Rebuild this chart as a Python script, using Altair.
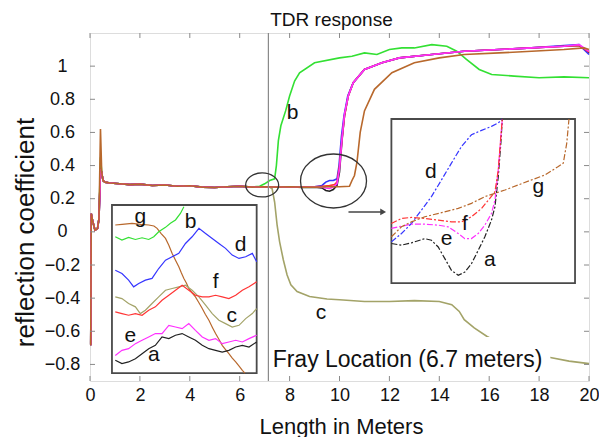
import altair as alt
import pandas as pd

FONT = "Liberation Sans"

# ---------------- main traces ----------------
BASE_X = [0.0, 0.03, 0.05, 0.1, 0.2, 0.3, 0.36, 0.42, 0.47, 0.52, 0.6, 0.8, 1.2, 1.6, 2.0, 2.5,
          3.0, 3.5, 4.0, 4.5, 5.0, 5.5, 6.0, 6.5]
BASE_Y = [-0.68, -0.68, 0.11, 0.07, 0.01, 0.02, 0.08, 0.40, 0.36, 0.31, 0.30, 0.295, 0.29, 0.285,
          0.288, 0.28, 0.283, 0.275, 0.278, 0.27, 0.268, 0.272, 0.275, 0.27]
SPIKE_PEAK = {"a": 0.38, "b": 0.45, "c": 0.36, "d": 0.37, "e": 0.38, "f": 0.37, "g": 0.62}

A_X = [7.0, 7.5, 8.0, 8.5, 9.0, 9.3, 9.45, 9.6, 9.75, 9.9, 10.0, 10.1, 10.2, 10.35, 10.55, 11.0,
       11.7, 12.4, 13.7, 15.0, 16.4, 17.7, 19.0, 19.6, 20.0]
A_Y = [0.272, 0.27, 0.272, 0.268, 0.27, 0.265, 0.25, 0.245, 0.255, 0.28, 0.36, 0.55, 0.70, 0.82,
       0.90, 0.98, 1.02, 1.05, 1.07, 1.09, 1.10, 1.11, 1.12, 1.125, 1.08]
B_X = [6.8, 7.0, 7.2, 7.4, 7.47, 7.55, 7.65, 7.84, 8.0, 8.2, 8.4, 9.0, 10.0, 10.5, 11.0, 11.5, 12.0,
       12.5, 13.0, 13.7, 14.3, 14.7, 15.1, 15.6, 16.1, 17.0, 18.0, 19.0, 20.0]
B_Y = [0.275, 0.29, 0.31, 0.32, 0.40, 0.55, 0.64, 0.73, 0.82, 0.91, 0.96, 1.02, 1.05, 1.06, 1.08,
       1.07, 1.10, 1.11, 1.11, 1.13, 1.12, 1.09, 1.04, 0.98, 0.95, 0.94, 0.93, 0.935, 0.93]
C_X = [7.0, 7.2, 7.3, 7.4, 7.5, 7.6, 7.75, 7.9, 8.05, 8.3, 8.8, 9.5, 10.0, 11.0, 12.0, 13.0, 14.0,
       14.5, 14.8, 15.0, 15.4, 15.9, 16.5, 17.5, 18.5, 19.2, 20.0]
C_Y = [0.272, 0.27, 0.26, 0.18, 0.04, -0.06, -0.17, -0.26, -0.32, -0.36, -0.39, -0.405, -0.41,
       -0.42, -0.42, -0.415, -0.42, -0.44, -0.48, -0.53, -0.58, -0.63, -0.68, -0.73, -0.76, -0.78,
       -0.795]
D_X = [7.0, 7.5, 8.0, 8.5, 9.0, 9.3, 9.45, 9.6, 9.75, 9.9, 9.98, 10.08, 10.18, 10.33, 10.55, 11.0,
       11.7, 12.4, 13.7, 15.0, 16.4, 17.7, 19.0, 19.6, 20.0]
D_Y = [0.272, 0.27, 0.272, 0.27, 0.272, 0.28, 0.30, 0.31, 0.31, 0.32, 0.40, 0.58, 0.70, 0.82, 0.90,
       0.98, 1.02, 1.05, 1.07, 1.09, 1.10, 1.11, 1.125, 1.13, 1.07]
E_X = [7.0, 7.5, 8.0, 8.5, 9.0, 9.3, 9.45, 9.6, 9.75, 9.9, 10.0, 10.1, 10.2, 10.35, 10.55, 11.0,
       11.7, 12.4, 13.7, 15.0, 16.4, 17.7, 19.0, 19.6, 20.0]
E_Y = [0.272, 0.27, 0.272, 0.27, 0.272, 0.27, 0.265, 0.262, 0.27, 0.29, 0.38, 0.56, 0.71, 0.82,
       0.90, 0.98, 1.02, 1.05, 1.07, 1.09, 1.10, 1.11, 1.12, 1.13, 1.09]
F_X = [7.0, 7.5, 8.0, 8.5, 9.0, 9.3, 9.6, 9.8, 9.9, 10.0, 10.1, 10.2, 10.35, 10.55, 11.0, 11.7,
       12.4, 13.7, 15.0, 16.4, 17.7, 19.0, 19.6, 20.0]
F_Y = [0.272, 0.27, 0.272, 0.27, 0.272, 0.275, 0.28, 0.285, 0.30, 0.40, 0.56, 0.70, 0.82, 0.90,
       0.98, 1.02, 1.05, 1.07, 1.09, 1.10, 1.11, 1.12, 1.125, 1.085]
G_X = [7.0, 7.5, 8.0, 8.5, 9.0, 9.5, 10.0, 10.4, 10.5, 10.6, 10.7, 10.83, 11.0, 11.4, 12.1, 13.0,
       14.0, 15.0, 16.4, 17.7, 19.0, 19.8, 20.0]
G_Y = [0.272, 0.27, 0.272, 0.27, 0.27, 0.272, 0.272, 0.275, 0.31, 0.34, 0.42, 0.60, 0.73, 0.86,
       0.96, 1.02, 1.05, 1.07, 1.08, 1.09, 1.10, 1.11, 1.10]

SERIES = ["c", "b", "a", "d", "f", "e", "g"]
TAILS = {"a": (A_X, A_Y), "b": (B_X, B_Y), "c": (C_X, C_Y), "d": (D_X, D_Y),
         "e": (E_X, E_Y), "f": (F_X, F_Y), "g": (G_X, G_Y)}
COLORS = {"a": "#222222", "b": "#33e033", "c": "#a3a368", "d": "#3535ff", "e": "#ff30ff",
          "f": "#ff3535", "g": "#b8682c"}

# ---------------- inset 1 (zoom around fray, local 0..1 coordinates) ----------------
IN1 = {
    "g": [(.023, .881), (.07, .885), (.139, .891), (.2, .885), (.254, .881), (.29, .875), (.312, .861),
          (.34, .83), (.37, .801), (.393, .76), (.416, .712), (.44, .67), (.462, .632), (.48, .595),
          (.497, .563), (.515, .535), (.531, .503), (.555, .475), (.577, .453), (.6, .42), (.624, .384),
          (.645, .35), (.67, .314), (.695, .27), (.716, .235), (.74, .2), (.762, .165), (.785, .14),
          (.808, .115), (.83, .09), (.855, .066), (.88, .04), (.901, .016), (.919, 0.0)],
    "b": [(.023, .811), (.069, .791), (.115, .807), (.162, .795), (.208, .805), (.254, .795), (.289, .811),
          (.323, .841), (.37, .867), (.404, .891), (.439, .911), (.473, .95), (.497, .99)],
    "d": [(.023, .612), (.069, .592), (.115, .553), (.15, .513), (.185, .533), (.231, .553), (.277, .563),
          (.323, .622), (.37, .672), (.416, .692), (.462, .712), (.508, .771), (.554, .811), (.601, .861),
          (.647, .831), (.693, .801), (.739, .771), (.785, .742), (.831, .702), (.878, .682), (.924, .692),
          (.97, .712), (1.0, .662)],
    "c": [(.023, .453), (.069, .443), (.115, .414), (.162, .394), (.196, .354), (.231, .374), (.277, .414),
          (.323, .453), (.37, .493), (.416, .503), (.462, .513), (.508, .523), (.554, .493), (.601, .453),
          (.647, .404), (.693, .354), (.739, .314), (.785, .294), (.831, .274), (.878, .284), (.924, .324),
          (.97, .354), (1.0, .384)],
    "f": [(.023, .364), (.069, .354), (.115, .344), (.162, .354), (.208, .344), (.254, .374), (.3, .394),
          (.346, .433), (.393, .463), (.439, .493), (.485, .523), (.531, .493), (.577, .463), (.624, .453),
          (.67, .453), (.716, .463), (.762, .453), (.808, .443), (.855, .463), (.901, .493), (.947, .513),
          (1.0, .543)],
    "e": [(.023, .105), (.069, .135), (.115, .145), (.162, .175), (.208, .195), (.254, .215), (.3, .235),
          (.346, .235), (.393, .284), (.439, .274), (.485, .264), (.531, .294), (.577, .254), (.624, .215),
          (.67, .195), (.716, .205), (.762, .175), (.808, .185), (.855, .195), (.901, .185), (.947, .205),
          (1.0, .225)],
    "a": [(.023, .076), (.069, .056), (.115, .066), (.162, .085), (.208, .115), (.254, .145), (.3, .165),
          (.346, .215), (.393, .205), (.439, .225), (.485, .235), (.531, .215), (.577, .195), (.624, .165),
          (.67, .145), (.716, .135), (.762, .125), (.808, .135), (.855, .155), (.901, .165), (.947, .155),
          (1.0, .185)],
}
IN1_LABELS = {"g": (.196, .93), "b": (.543, .90), "d": (.889, .761), "f": (.716, .543),
              "c": (.827, .338), "e": (.127, .219), "a": (.289, .105)}

# ---------------- inset 2 (zoom around the open end) ----------------
IN2 = {
    "d": [(0, .251), (.055, .302), (.109, .363), (.164, .445), (.218, .527), (.273, .629), (.327, .731),
          (.382, .833), (.436, .904), (.491, .931), (.545, .955), (.582, .976), (.604, 1.0)],
    "a": [(0, .241), (.055, .231), (.109, .245), (.182, .271), (.218, .261), (.255, .22), (.291, .149),
          (.327, .078), (.364, .047), (.4, .067), (.436, .118), (.473, .2), (.509, .282), (.545, .384),
          (.564, .465), (.582, .649), (.596, .853), (.604, 1.0)],
    "e": [(0, .333), (.055, .347), (.109, .359), (.182, .359), (.255, .353), (.309, .343), (.364, .302),
          (.4, .271), (.436, .271), (.473, .302), (.509, .353), (.545, .424), (.564, .506), (.582, .69),
          (.596, .894), (.604, 1.0)],
    "f": [(0, .363), (.055, .394), (.109, .4), (.182, .394), (.255, .384), (.327, .373), (.382, .373),
          (.436, .404), (.491, .455), (.536, .516), (.564, .557), (.582, .69), (.596, .894), (.604, 1.0)],
    "g": [(0, .282), (.055, .343), (.109, .373), (.182, .404), (.273, .429), (.364, .455), (.436, .486),
          (.509, .527), (.564, .547), (.618, .567), (.691, .598), (.764, .629), (.836, .659), (.909, .71),
          (.936, .731), (.955, .853), (.967, 1.0)],
}
IN2_LABELS = {"d": (.215, .68), "g": (.8, .588), "f": (.4, .363), "e": (.3, .271), "a": (.536, .139)}

MAIN_LABELS = {"b": (8.12, 0.72), "c": (9.26, -0.49)}

X_TICKS = [0, 2, 4, 6, 8, 10, 12, 14, 16, 18, 20]
Y_TICKS = [-0.8, -0.6, -0.4, -0.2, 0.0, 0.2, 0.4, 0.6, 0.8, 1.0]

FRAY_X = 7.15
FRAY_TEXT = "Fray Location (6.7 meters)"
TITLE = "TDR response"

# ---------------- layout constants (data units) ----------------
X_DOM = [0, 20]
Y_DOM = [-0.9, 1.2]
INSET1_BOX = (0.88, 6.68, -0.852, 0.162)
INSET2_BOX = (12.08, 19.44, -0.309, 0.681)
ELLIPSES = [(6.9, 0.283, 33, 0.727), (9.76, 0.307, 66, 0.818)]
ARROW = (10.36, 11.95, 0.12)
TEXT_POS = (7.32, -0.816)
TEXT_BOX = (7.25, 18.45, -0.635, -0.86)

W, H = 499, 348

X_AXIS = alt.Axis(values=X_TICKS, format="d", ticks=False, tickSize=0, domain=False,
                  grid=False, labelFontSize=18, labelFont=FONT, labelColor="#111",
                  labelPadding=5, labelFlush=False, labelOverlap=False,
                  title="Length in Meters", titleFontSize=22, titleFont=FONT,
                  titleFontWeight="normal", titleColor="#111",
                  titleX=251, titleY=52, titleBaseline="alphabetic")
Y_AXIS = alt.Axis(values=Y_TICKS, format=".1~f", ticks=False, tickSize=0, domain=False,
                  grid=False, labelFontSize=18, labelFont=FONT, labelColor="#111",
                  labelAlign="center", labelPadding=28, labelFlush=False,
                  labelOverlap=False,
                  title="reflection coefficient", titleFontSize=26, titleFont=FONT,
                  titleFontWeight="normal", titleColor="#111",
                  titleX=-57, titleY=199, titleAlign="center",
                  titleBaseline="alphabetic")


def xq():
    return alt.X("x:Q", scale=alt.Scale(domain=X_DOM, nice=False, zero=False), axis=X_AXIS)


def yq():
    return alt.Y("y:Q", scale=alt.Scale(domain=Y_DOM, nice=False, zero=False), axis=Y_AXIS)


color_scale = alt.Scale(domain=list(COLORS.keys()), range=list(COLORS.values()))

# main lines dataframe
rows = []
for k, s in enumerate(SERIES):
    by = list(BASE_Y)
    by[7] = SPIKE_PEAK[s]
    tx, ty = TAILS[s]
    xs = BASE_X + tx
    ys = by + ty
    for i, (xv, yv) in enumerate(zip(xs, ys)):
        rows.append({"s": s, "o": k, "i": i, "x": xv, "y": yv})
main_df = pd.DataFrame(rows)


def inset_df(d, box):
    x0, x1, y0, y1 = box
    r = []
    for s in d:
        for i, (u, v) in enumerate(d[s]):
            r.append({"s": s, "i": i, "x": x0 + u * (x1 - x0), "y": y0 + v * (y1 - y0)})
    return pd.DataFrame(r)


def label_df(d, box=None):
    r = []
    for s, (u, v) in d.items():
        if box:
            x0, x1, y0, y1 = box
            r.append({"s": s, "x": x0 + u * (x1 - x0), "y": y0 + v * (y1 - y0)})
        else:
            r.append({"s": s, "x": u, "y": v})
    return pd.DataFrame(r)


layers = []

# main lines (first, so the y axis is defined here)
layers.append(alt.Chart(main_df).mark_line(strokeWidth=1.6, interpolate="linear").encode(
    x=xq(), y=yq(),
    color=alt.Color("s:N", scale=color_scale, legend=None),
    detail="s:N", order="i:Q"))

# vertical fray line
layers.append(alt.Chart(pd.DataFrame({"x": [FRAY_X]})).mark_rule(color="#8a8a8a", strokeWidth=1.2)
              .encode(x=xq()))

# white box behind fray text
tb = TEXT_BOX
layers.append(alt.Chart(pd.DataFrame({"x": [tb[0]], "x2": [tb[1]], "y": [tb[2]], "y2": [tb[3]]}))
              .mark_rect(fill="white").encode(x=xq(), x2="x2", y=yq(), y2="y2"))

# inset boxes
for box in (INSET1_BOX, INSET2_BOX):
    layers.append(alt.Chart(pd.DataFrame({"x": [box[0]], "x2": [box[1]], "y": [box[2]], "y2": [box[3]]}))
                  .mark_rect(fill="white", stroke="#4a4a4a", strokeWidth=1.8)
                  .encode(x=xq(), x2="x2", y=yq(), y2="y2"))

# inset lines
layers.append(alt.Chart(inset_df(IN1, INSET1_BOX)).mark_line(strokeWidth=1.2).encode(
    x=xq(), y=yq(), color=alt.Color("s:N", scale=color_scale, legend=None), detail="s:N", order="i:Q"))
layers.append(alt.Chart(inset_df(IN2, INSET2_BOX)).mark_line(strokeWidth=1.2, strokeDash=[6, 2, 2, 2]).encode(
    x=xq(), y=yq(), color=alt.Color("s:N", scale=color_scale, legend=None), detail="s:N", order="i:Q"))

# curve labels
for df in (label_df(IN1_LABELS, INSET1_BOX), label_df(IN2_LABELS, INSET2_BOX), label_df(MAIN_LABELS)):
    layers.append(alt.Chart(df).mark_text(font=FONT, fontSize=21, color="#111", baseline="middle",
                                          align="center").encode(x=xq(), y=yq(), text="s:N"))

# ellipses
for ex, ey, w, ratio in ELLIPSES:
    path = f"M -1 0 A 1 {ratio} 0 1 0 1 0 A 1 {ratio} 0 1 0 -1 0 Z"
    layers.append(alt.Chart(pd.DataFrame({"x": [ex], "y": [ey]}))
                  .mark_point(shape=path, size=w * w, filled=False, stroke="#333", strokeWidth=1.3, opacity=1)
                  .encode(x=xq(), y=yq()))

# arrow
ax0, ax1, ay = ARROW
layers.append(alt.Chart(pd.DataFrame({"x": [ax0], "x2": [ax1 - 0.2], "y": [ay]}))
              .mark_rule(color="#444", strokeWidth=1.5).encode(x=xq(), x2="x2", y=yq()))
layers.append(alt.Chart(pd.DataFrame({"x": [ax1 - 0.2], "y": [ay]}))
              .mark_point(shape="triangle-right", size=45, filled=True, color="#444", opacity=1)
              .encode(x=xq(), y=yq()))

# fray text
layers.append(alt.Chart(pd.DataFrame({"x": [TEXT_POS[0]], "y": [TEXT_POS[1]], "t": [FRAY_TEXT]}))
              .mark_text(font=FONT, fontSize=23, color="#111", align="left", baseline="alphabetic")
              .encode(x=xq(), y=yq(), text="t:N"))

# inward ticks (bottom/top/left/right)
xt = pd.DataFrame({"x": X_TICKS})
yt = pd.DataFrame({"y": Y_TICKS})
tick_color = "#8a8a8a"
layers.append(alt.Chart(xt).mark_rule(color=tick_color).encode(x=xq(), y=alt.value(H), y2=alt.value(H - 5)))
layers.append(alt.Chart(xt).mark_rule(color=tick_color).encode(x=xq(), y=alt.value(0), y2=alt.value(5)))
layers.append(alt.Chart(yt).mark_rule(color=tick_color).encode(y=yq(), x=alt.value(0), x2=alt.value(5)))
layers.append(alt.Chart(yt).mark_rule(color=tick_color).encode(y=yq(), x=alt.value(W), x2=alt.value(W - 5)))

chart = alt.layer(*layers).properties(
    width=W, height=H,
    title=alt.TitleParams(TITLE, fontSize=19, font=FONT, fontWeight="normal", color="#111",
                          anchor="middle", dx=-8, offset=2),
    autosize=alt.AutoSizeParams(type="none"),
    padding={"left": 82, "top": 25, "right": 10, "bottom": 56},
).configure_view(stroke="#9a9a9a", strokeWidth=1.2).configure(background="white")

chart.save("out.html", embed_options={"renderer": "svg", "actions": False})
